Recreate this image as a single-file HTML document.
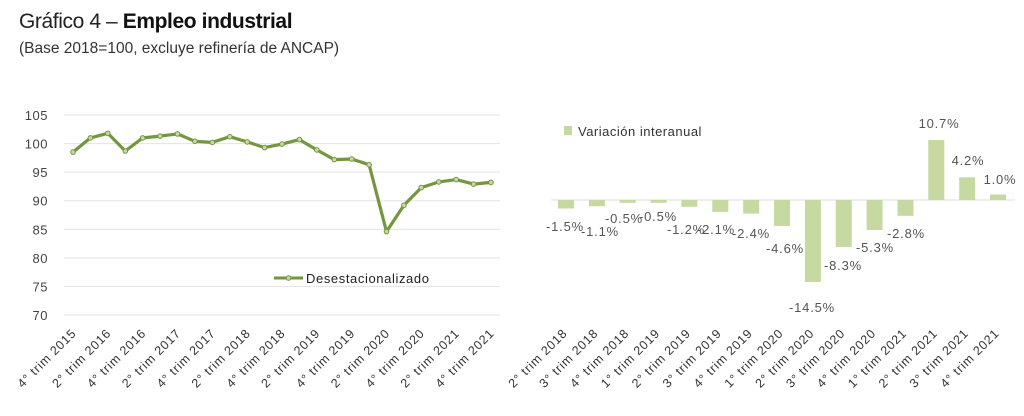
<!DOCTYPE html>
<html><head><meta charset="utf-8"><style>
html,body{margin:0;padding:0;background:#fff;}
svg{display:block;font-family:"Liberation Sans",sans-serif;}
</style></head><body>
<svg width="1024" height="416" viewBox="0 0 1024 416" xmlns="http://www.w3.org/2000/svg">
<text x="19" y="28" font-size="21" fill="#222" letter-spacing="-0.4">Gráfico 4 – <tspan font-weight="bold" fill="#111">Empleo industrial</tspan></text>
<text x="19" y="53" font-size="15.5" fill="#333">(Base 2018=100, excluye refinería de ANCAP)</text>

<g stroke="#e3e3e3" stroke-width="1">
<line x1="64" x2="500" y1="115" y2="115"/><line x1="64" x2="500" y1="143.6" y2="143.6"/>
<line x1="64" x2="500" y1="172.1" y2="172.1"/><line x1="64" x2="500" y1="200.7" y2="200.7"/>
<line x1="64" x2="500" y1="229.3" y2="229.3"/><line x1="64" x2="500" y1="257.9" y2="257.9"/>
<line x1="64" x2="500" y1="286.4" y2="286.4"/><line x1="64" x2="500" y1="315" y2="315"/>
</g>
<g font-size="13" fill="#444" text-anchor="end" letter-spacing="0.5">
<text x="48" y="120">105</text><text x="48" y="148.6">100</text><text x="48" y="177.1">95</text>
<text x="48" y="205.7">90</text><text x="48" y="234.3">85</text><text x="48" y="262.9">80</text>
<text x="48" y="291.4">75</text><text x="48" y="320">70</text>
</g>
<polyline fill="none" stroke="#74963f" stroke-width="3.2" stroke-linejoin="round" stroke-linecap="round"
points="73,152.1 90.4,137.9 107.8,133.3 125.3,151 142.7,137.9 160.1,136.1 177.5,133.9 194.9,141.3 212.3,142.4 229.8,136.7 247.2,141.9 264.6,147.6 282,144.1 299.4,139.6 316.8,149.9 334.3,159.6 351.7,159 369.1,164.7 386.5,231.6 403.9,205.3 421.3,187.6 438.8,181.9 456.2,179.6 473.6,184.1 491,182.4"/>
<g fill="#c9d9a5" stroke="#74963f" stroke-width="1">
<circle cx="73" cy="152.1" r="2.3"/><circle cx="90.4" cy="137.9" r="2.3"/><circle cx="107.8" cy="133.3" r="2.3"/><circle cx="125.3" cy="151" r="2.3"/><circle cx="142.7" cy="137.9" r="2.3"/><circle cx="160.1" cy="136.1" r="2.3"/><circle cx="177.5" cy="133.9" r="2.3"/><circle cx="194.9" cy="141.3" r="2.3"/><circle cx="212.3" cy="142.4" r="2.3"/><circle cx="229.8" cy="136.7" r="2.3"/><circle cx="247.2" cy="141.9" r="2.3"/><circle cx="264.6" cy="147.6" r="2.3"/><circle cx="282" cy="144.1" r="2.3"/><circle cx="299.4" cy="139.6" r="2.3"/><circle cx="316.8" cy="149.9" r="2.3"/><circle cx="334.3" cy="159.6" r="2.3"/><circle cx="351.7" cy="159" r="2.3"/><circle cx="369.1" cy="164.7" r="2.3"/><circle cx="386.5" cy="231.6" r="2.3"/><circle cx="403.9" cy="205.3" r="2.3"/><circle cx="421.3" cy="187.6" r="2.3"/><circle cx="438.8" cy="181.9" r="2.3"/><circle cx="456.2" cy="179.6" r="2.3"/><circle cx="473.6" cy="184.1" r="2.3"/><circle cx="491" cy="182.4" r="2.3"/>
</g>
<line x1="274" x2="303" y1="278" y2="278" stroke="#74963f" stroke-width="3"/>
<circle cx="288.5" cy="278" r="2.3" fill="#c9d9a5" stroke="#74963f"/>
<text x="306" y="283" font-size="13" fill="#222" letter-spacing="0.6">Desestacionalizado</text>

<g font-size="12.5" fill="#333" text-anchor="end" letter-spacing="0.8">
<text transform="translate(77,334) rotate(-45)">4° trim 2015</text>
<text transform="translate(111.8,334) rotate(-45)">2° trim 2016</text>
<text transform="translate(146.7,334) rotate(-45)">4° trim 2016</text>
<text transform="translate(181.5,334) rotate(-45)">2° trim 2017</text>
<text transform="translate(216.3,334) rotate(-45)">4° trim 2017</text>
<text transform="translate(251.2,334) rotate(-45)">2° trim 2018</text>
<text transform="translate(286,334) rotate(-45)">4° trim 2018</text>
<text transform="translate(320.8,334) rotate(-45)">2° trim 2019</text>
<text transform="translate(355.7,334) rotate(-45)">4° trim 2019</text>
<text transform="translate(390.5,334) rotate(-45)">2° trim 2020</text>
<text transform="translate(425.3,334) rotate(-45)">4° trim 2020</text>
<text transform="translate(460.2,334) rotate(-45)">2° trim 2021</text>
<text transform="translate(495,334) rotate(-45)">4° trim 2021</text>
</g>

<line x1="551" x2="1015" y1="200" y2="200" stroke="#dcdcdc" stroke-width="1"/>
<g fill="#c5d9a0">
<rect x="558" y="200" width="16" height="8.5"/>
<rect x="588.9" y="200" width="16" height="6.2"/>
<rect x="619.7" y="200" width="16" height="2.8"/>
<rect x="650.6" y="200" width="16" height="2.8"/>
<rect x="681.4" y="200" width="16" height="6.8"/>
<rect x="712.3" y="200" width="16" height="11.9"/>
<rect x="743.2" y="200" width="16" height="13.6"/>
<rect x="774" y="200" width="16" height="26"/>
<rect x="804.9" y="200" width="16" height="82"/>
<rect x="835.7" y="200" width="16" height="47"/>
<rect x="866.6" y="200" width="16" height="30"/>
<rect x="897.5" y="200" width="16" height="15.8"/>
<rect x="928.3" y="140" width="16" height="60"/>
<rect x="959.2" y="177.3" width="16" height="22.7"/>
<rect x="990" y="194.5" width="16" height="5.5"/>
</g>
<rect x="564" y="126" width="8" height="9" fill="#c5d9a0"/>
<text x="578" y="136" font-size="13" fill="#333" letter-spacing="0.5">Variación interanual</text>

<g font-size="13" fill="#555" text-anchor="middle" letter-spacing="0.8">
<text x="565" y="231">-1.5%</text>
<text x="600" y="236">-1.1%</text>
<text x="624" y="223">-0.5%</text>
<text x="658" y="221">-0.5%</text>
<text x="686" y="234">-1.2%</text>
<text x="716" y="234">-2.1%</text>
<text x="751" y="238">-2.4%</text>
<text x="785" y="253">-4.6%</text>
<text x="812" y="312">-14.5%</text>
<text x="843" y="270">-8.3%</text>
<text x="875" y="252">-5.3%</text>
<text x="906" y="238">-2.8%</text>
<text x="939" y="128">10.7%</text>
<text x="968" y="165">4.2%</text>
<text x="1000" y="184">1.0%</text>
</g>

<g font-size="12.5" fill="#333" text-anchor="end" letter-spacing="0.8">
<text transform="translate(568,334) rotate(-45)">2° trim 2018</text>
<text transform="translate(598.9,334) rotate(-45)">3° trim 2018</text>
<text transform="translate(629.7,334) rotate(-45)">4° trim 2018</text>
<text transform="translate(660.6,334) rotate(-45)">1° trim 2019</text>
<text transform="translate(691.4,334) rotate(-45)">2° trim 2019</text>
<text transform="translate(722.3,334) rotate(-45)">3° trim 2019</text>
<text transform="translate(753.2,334) rotate(-45)">4° trim 2019</text>
<text transform="translate(784,334) rotate(-45)">1° trim 2020</text>
<text transform="translate(814.9,334) rotate(-45)">2° trim 2020</text>
<text transform="translate(845.7,334) rotate(-45)">3° trim 2020</text>
<text transform="translate(876.6,334) rotate(-45)">4° trim 2020</text>
<text transform="translate(907.5,334) rotate(-45)">1° trim 2021</text>
<text transform="translate(938.3,334) rotate(-45)">2° trim 2021</text>
<text transform="translate(969.2,334) rotate(-45)">3° trim 2021</text>
<text transform="translate(1000,334) rotate(-45)">4° trim 2021</text>
</g>
</svg>
</body></html>
